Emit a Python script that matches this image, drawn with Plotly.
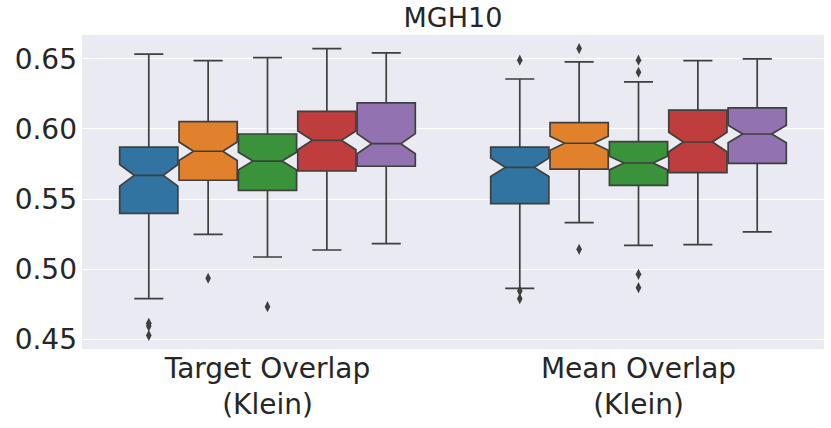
import plotly.graph_objects as go

# two metric groups on the x axis, five methods (hues) in each
groups = ["Target Overlap<br>(Klein)", "Mean Overlap<br>(Klein)"]
colors = ["#3274a1", "#e1812c", "#3a923a", "#c03d3e", "#9372b2"]

# box statistics, [group][hue]
lower = [[0.4788, 0.5248, 0.5086, 0.5136, 0.5181],
         [0.4862, 0.5331, 0.5169, 0.5174, 0.5266]]
q1 = [[0.5398, 0.5634, 0.5562, 0.5700, 0.5734],
      [0.5467, 0.5714, 0.5598, 0.5688, 0.5755]]
median = [[0.5669, 0.5841, 0.5771, 0.5919, 0.5895],
          [0.5726, 0.5898, 0.5757, 0.5907, 0.5964]]
q3 = [[0.5871, 0.6052, 0.5964, 0.6126, 0.6186],
      [0.5871, 0.6045, 0.5909, 0.6134, 0.6150]]
upper = [[0.6534, 0.6488, 0.6509, 0.6574, 0.6543],
         [0.6357, 0.6479, 0.6336, 0.6488, 0.6500]]
notch = [[0.0077, 0.0066, 0.0063, 0.0067, 0.0072],
         [0.0066, 0.0050, 0.0049, 0.0070, 0.0062]]
outliers = [[[0.4612, 0.4593, 0.4526], [0.4934], [0.4731], [], []],
            [[0.6491, 0.4843, 0.4788], [0.6574, 0.5141],
             [0.6491, 0.6405, 0.4962, 0.4867], [], []]]

yticks = [0.45, 0.50, 0.55, 0.60, 0.65]

edge = "#3f3f3f"
n_hue = len(colors)
slot = 0.8 / n_hue
box_w = slot * 0.98

fig = go.Figure()
for g in range(len(groups)):
    for h in range(n_hue):
        xpos = g + (h - (n_hue - 1) / 2) * slot
        fig.add_trace(go.Box(
            x=[xpos],
            lowerfence=[lower[g][h]],
            q1=[q1[g][h]],
            median=[median[g][h]],
            q3=[q3[g][h]],
            upperfence=[upper[g][h]],
            notched=True,
            notchspan=[notch[g][h]],
            notchwidth=0.25,
            width=box_w,
            whiskerwidth=0.5,
            fillcolor=colors[h],
            line=dict(color=edge, width=1.7),
            boxpoints=False,
            hoverinfo="skip",
            showlegend=False,
        ))
        pts = outliers[g][h]
        if pts:
            fig.add_trace(go.Scatter(
                x=[xpos] * len(pts),
                y=pts,
                mode="markers",
                marker=dict(symbol="diamond-tall", size=8, color=edge),
                hoverinfo="skip",
                showlegend=False,
            ))

fig.update_layout(
    width=831,
    height=428,
    margin=dict(l=82, r=7, t=35, b=79),
    paper_bgcolor="white",
    plot_bgcolor="#eaeaf2",
    font=dict(family="DejaVu Sans", color="#262626"),
    title=dict(text="MGH10", x=0.545, xanchor="center", y=0.982, yanchor="top",
               font=dict(size=27, color="#262626")),
)
fig.update_xaxes(
    range=[-0.5, 1.5],
    tickvals=list(range(len(groups))),
    ticktext=groups,
    tickfont=dict(size=28),
    showgrid=False,
    zeroline=False,
    ticks="",
)
fig.update_yaxes(
    range=[0.4429, 0.6671],
    tickvals=yticks,
    ticktext=[f"{v:.2f}" for v in yticks],
    tickfont=dict(size=28),
    gridcolor="white",
    gridwidth=1.3,
    zeroline=False,
    ticks="",
    ticklabelstandoff=4,
)

# the default page keeps an 8px body margin; drop it so the figure sits at 0,0
fig.write_html("out.html", config={"displayModeBar": False},
               post_script="document.body.style.margin='0';")
